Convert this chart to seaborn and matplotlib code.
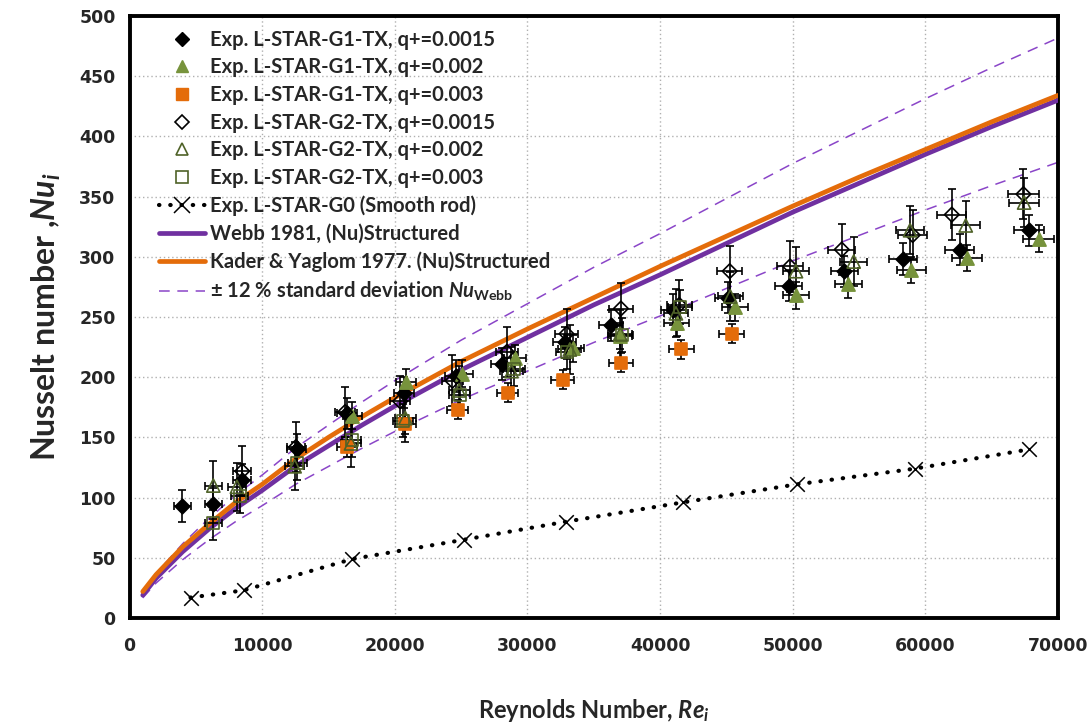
import numpy as np
import pandas as pd
import matplotlib
matplotlib.use("Agg")
import matplotlib.pyplot as plt
from matplotlib.lines import Line2D
from matplotlib.ticker import MultipleLocator
import seaborn as sns

# ---- measured data -------------------------------------------------------
re_g1_q15 = [3980, 6320, 8460, 12600, 16400, 20700, 24600, 28100, 32800, 36300,
             41000, 45100, 49700, 53900, 58300, 62600, 67800]
nu_g1_q15 = [93, 95, 115, 140, 170, 187, 201, 211, 229, 243,
             256, 266, 276, 288, 298, 306, 322]

re_g1_q20 = [16800, 20850, 25100, 29050, 33400, 37000, 41250, 45650, 50250,
             54200, 58950, 63150, 68550]
nu_g1_q20 = [168, 196, 203, 216, 224, 234, 245, 258, 268, 277, 289, 299, 315]

re_g1_q30 = [16400, 20800, 24750, 28500, 32650, 37050, 41600, 45400]
nu_g1_q30 = [142, 161, 173, 187, 198, 212, 223, 236]

re_g2_q15 = [8500, 12550, 16250, 20400, 24350, 28450, 32950, 37050, 41450,
             45250, 49800, 53700, 59050, 62000, 67400]
nu_g2_q15 = [122, 142, 171, 180, 197, 221, 236, 257, 260, 288, 292, 306, 318, 335, 352]

re_g2_q20 = [6320, 8100, 12450, 16700, 20800, 24850, 28800, 33200, 37000,
             41200, 45300, 50250, 54600, 58850, 63050, 67450]
nu_g2_q20 = [110, 109, 126, 145, 166, 189, 205, 223, 236, 253, 267, 288, 296, 322, 326, 345]

re_g2_q30 = [6320, 8300, 12650, 16750, 20600, 24900, 29000, 33000, 37100, 41500]
nu_g2_q30 = [79, 101, 129, 148, 164, 185, 207, 221, 235, 258]

re_g0 = [4600, 8600, 16800, 25200, 32900, 41700, 50300, 59200, 67800]
nu_g0 = [17, 23, 49, 65, 80, 96, 111, 124, 140]

# Nusselt uncertainty per series (absolute), Reynolds uncertainty (offset + relative)
nu_unc = {"g1_q15": 13, "g1_q20": 11, "g1_q30": 8,
          "g2_q15": 21, "g2_q20": 20, "g2_q30": 14}
re_unc_abs = 600
re_unc_rel = 0.008

# ---- correlations ---------------------------------------------------------
re_corr = [1000, 2000, 4000, 6000, 8000, 10000, 12500, 15000, 17500, 20000,
           25000, 30000, 35000, 40000, 45000, 50000, 55000, 60000, 65000, 70000]
nu_webb = [19, 33, 55, 74, 91, 106, 126, 143, 160, 176,
           206, 233, 260, 285, 311, 337, 361, 385, 408, 430]
nu_kader = [22, 36, 59, 78, 96, 111, 132, 150, 167, 183,
            213, 240, 266, 292, 317, 342, 366, 389, 412, 434]
webb_dev = 0.12

# ---- style ------------------------------------------------------------------
sns.set_theme(style="white")
plt.rcParams["font.family"] = ["Lato", "DejaVu Sans"]
plt.rcParams["mathtext.fontset"] = "custom"
plt.rcParams["mathtext.it"] = "Lato:italic:bold"
plt.rcParams["mathtext.rm"] = "Lato:bold"
plt.rcParams["mathtext.bf"] = "Lato:bold"

PURPLE = "#7030A0"
ORANGE = "#E46C0A"
OLIVE = "#77933C"
DARK_OLIVE = "#4F6228"
DASH_PURPLE = "#8A45C8"

fig = plt.figure(figsize=(10.91, 7.22), dpi=100)
ax = fig.add_axes([0.1187, 0.144, 0.851, 0.834])

# correlation curves
corr = pd.DataFrame({"Re": re_corr, "webb": nu_webb, "kader": nu_kader})
corr["upper"] = corr["webb"] * (1 + webb_dev)
corr["lower"] = corr["webb"] * (1 - webb_dev)
for col in ["upper", "lower"]:
    sns.lineplot(data=corr, x="Re", y=col, ax=ax, color=DASH_PURPLE, lw=1.1,
                 dashes=False, linestyle=(0, (7, 5)), zorder=2)
sns.lineplot(data=corr, x="Re", y="webb", ax=ax, color=PURPLE, lw=3.4, zorder=3)
sns.lineplot(data=corr, x="Re", y="kader", ax=ax, color=ORANGE, lw=3.4, zorder=3)

# smooth rod
g0 = pd.DataFrame({"Re": re_g0, "Nu": nu_g0})
sns.lineplot(data=g0, x="Re", y="Nu", ax=ax, color="black", lw=3.0,
             linestyle=(0, (0.1, 2.6)), dash_capstyle="round", zorder=4)
sns.scatterplot(data=g0, x="Re", y="Nu", ax=ax, marker="x", s=110,
                color="black", linewidth=1.1, zorder=5)

series = [
    ("g1_q15", re_g1_q15, nu_g1_q15, "D", "black", "black", 55),
    ("g1_q20", re_g1_q20, nu_g1_q20, "^", OLIVE, OLIVE, 90),
    ("g1_q30", re_g1_q30, nu_g1_q30, "s", ORANGE, ORANGE, 75),
    ("g2_q15", re_g2_q15, nu_g2_q15, "D", "none", "black", 55),
    ("g2_q20", re_g2_q20, nu_g2_q20, "^", "none", DARK_OLIVE, 90),
    ("g2_q30", re_g2_q30, nu_g2_q30, "s", "none", DARK_OLIVE, 75),
]
for key, re_v, nu_v, mk, fc, ec, size in series:
    re_a = np.asarray(re_v, dtype=float)
    ax.errorbar(re_a, nu_v, yerr=nu_unc[key], xerr=re_unc_abs + re_unc_rel * re_a,
                fmt="none", ecolor="black", elinewidth=1.2, capsize=3.2,
                capthick=1.2, zorder=6)
    sns.scatterplot(x=re_a, y=nu_v, ax=ax, marker=mk, s=size, facecolor=fc,
                    edgecolor=ec, linewidth=1.2, zorder=7)

# ---- axes -----------------------------------------------------------------
ax.set_xlim(0, 70000)
ax.set_ylim(0, 500)
ax.xaxis.set_major_locator(MultipleLocator(10000))
ax.xaxis.set_minor_locator(MultipleLocator(2000))
ax.yaxis.set_major_locator(MultipleLocator(50))
ax.yaxis.set_minor_locator(MultipleLocator(10))
ax.tick_params(which="both", direction="in", color="black")
ax.tick_params(which="major", length=5, width=1.2)
ax.tick_params(which="minor", length=3, width=1.0)
ax.tick_params(axis="x", which="major", pad=14)
ax.tick_params(axis="y", which="major", pad=10)
for lab in ax.get_xticklabels() + ax.get_yticklabels():
    lab.set_fontfamily("DejaVu Sans")
    lab.set_fontweight("bold")
    lab.set_fontsize(12.5)
ax.grid(True, which="major", color="#b0b0b0", linestyle=(0, (1, 2)), lw=1.0)
for sp in ax.spines.values():
    sp.set_color("black")
    sp.set_linewidth(2.8)

ax.set_xlabel("Reynolds Number, $Re_i$", fontsize=17, fontweight="bold", labelpad=30)
ax.set_ylabel("Nusselt number ,$Nu_i$", fontsize=23, fontweight="bold", labelpad=12)

# ---- legend ---------------------------------------------------------------
handles = [
    Line2D([], [], ls="none", marker="D", ms=7, mfc="black", mec="black"),
    Line2D([], [], ls="none", marker="^", ms=9, mfc=OLIVE, mec=OLIVE),
    Line2D([], [], ls="none", marker="s", ms=8, mfc=ORANGE, mec=ORANGE),
    Line2D([], [], ls="none", marker="D", ms=7, mfc="none", mec="black", mew=1.2),
    Line2D([], [], ls="none", marker="^", ms=9, mfc="none", mec=DARK_OLIVE, mew=1.2),
    Line2D([], [], ls="none", marker="s", ms=8, mfc="none", mec=DARK_OLIVE, mew=1.2),
    Line2D([], [], color="black", lw=3.0, ls=(0, (0.1, 2.6)), dash_capstyle="round",
           marker="x", ms=11, mew=1.1),
    Line2D([], [], color=PURPLE, lw=3.4),
    Line2D([], [], color=ORANGE, lw=3.4),
    Line2D([], [], color=DASH_PURPLE, lw=1.1, ls=(0, (7, 5))),
]
labels = [
    "Exp. L-STAR-G1-TX, q+=0.0015",
    "Exp. L-STAR-G1-TX, q+=0.002",
    "Exp. L-STAR-G1-TX, q+=0.003",
    "Exp. L-STAR-G2-TX, q+=0.0015",
    "Exp. L-STAR-G2-TX, q+=0.002",
    "Exp. L-STAR-G2-TX, q+=0.003",
    "Exp. L-STAR-G0 (Smooth rod)",
    "Webb 1981, (Nu)Structured",
    "Kader & Yaglom 1977. (Nu)Structured",
    "\u00b1 12 % standard deviation $Nu_{\\mathrm{Webb}}$",
]
leg = ax.legend(handles, labels, loc="upper left", bbox_to_anchor=(0.012, 1.007),
                frameon=False, prop={"weight": "bold", "size": 14.5},
                handlelength=2.3, handletextpad=0.25, labelspacing=0.38,
                borderpad=0.4)

fig.savefig("out.png", dpi=100)
